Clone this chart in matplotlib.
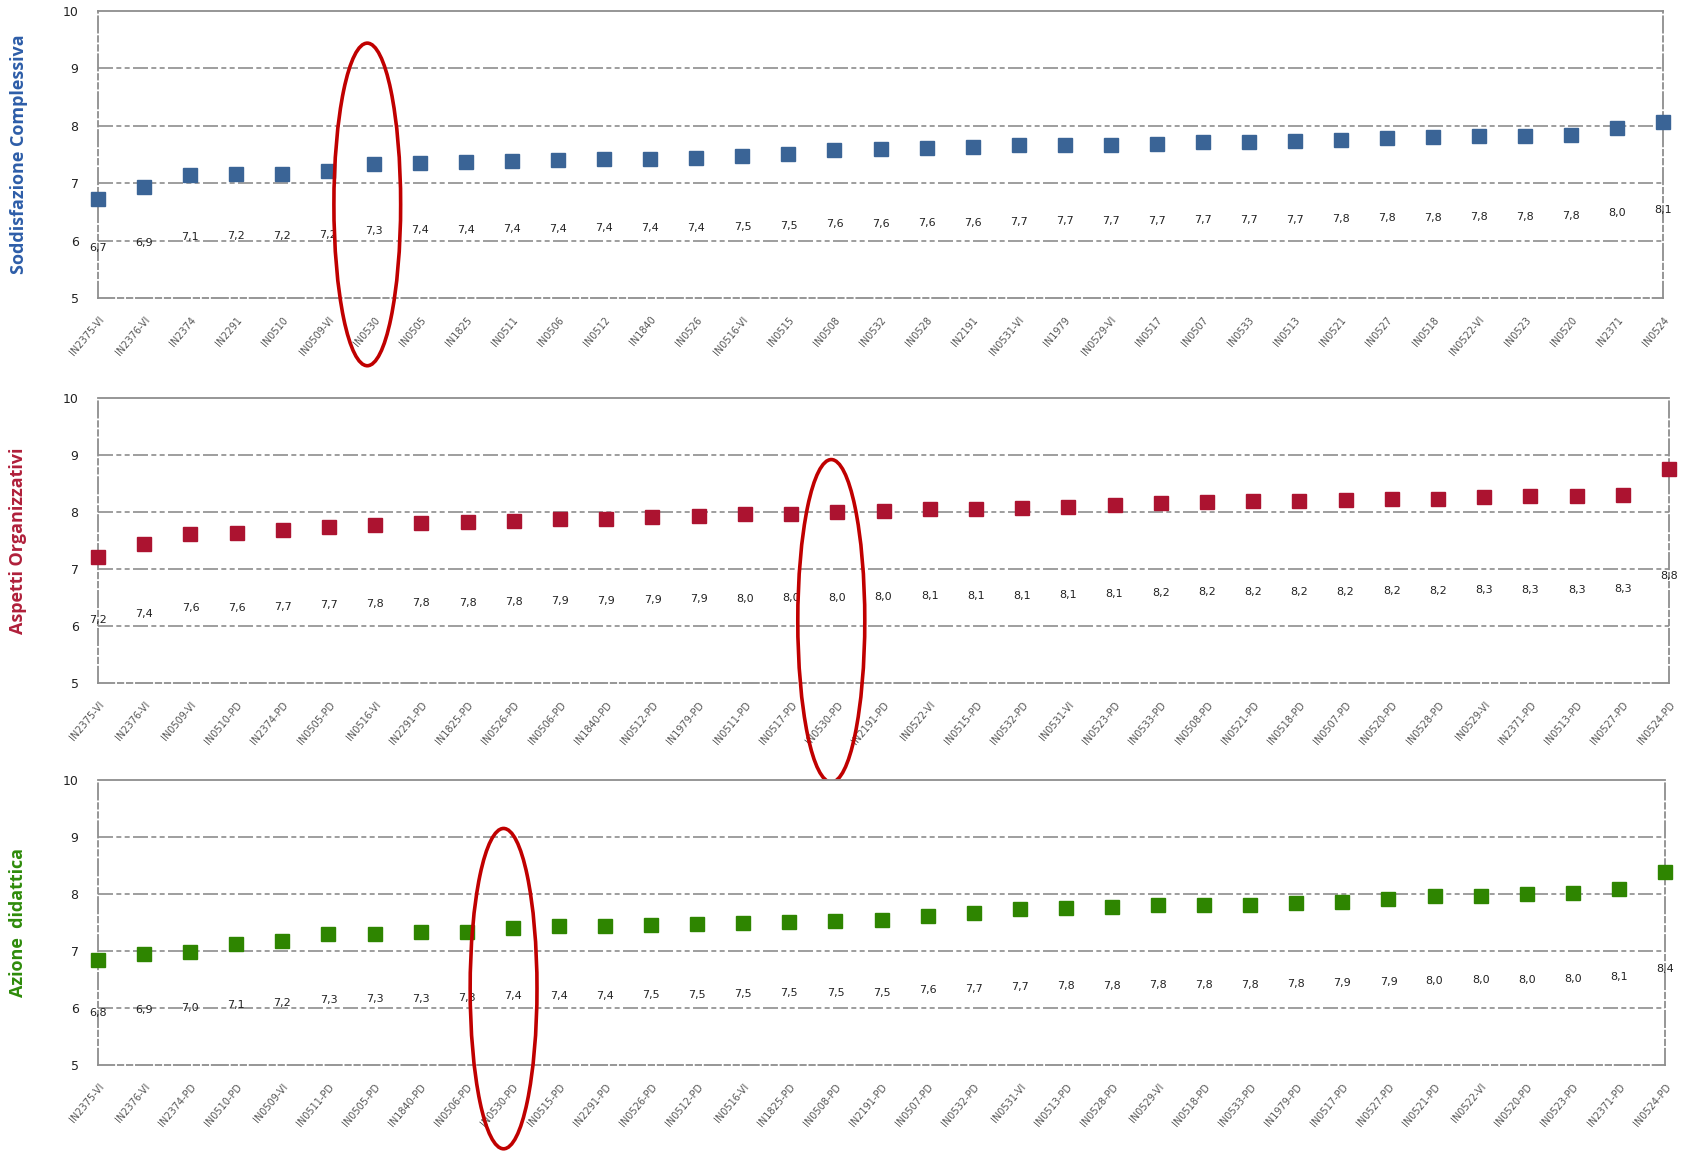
import matplotlib
matplotlib.use("Agg")
import matplotlib.pyplot as plt
from matplotlib.patches import Ellipse

# ---------------- data ----------------
labels_sodd = ["IN2375-VI", "IN2376-VI", "IN2374", "IN2291", "IN0510", "IN0509-VI", "IN0530",
               "IN0505", "IN1825", "IN0511", "IN0506", "IN0512", "IN1840", "IN0526", "IN0516-VI",
               "IN0515", "IN0508", "IN0532", "IN0528", "IN2191", "IN0531-VI", "IN1979", "IN0529-VI",
               "IN0517", "IN0507", "IN0533", "IN0513", "IN0521", "IN0527", "IN0518", "IN0522-VI",
               "IN0523", "IN0520", "IN2371", "IN0524"]
values_sodd = [6.73, 6.93, 7.14, 7.16, 7.16, 7.21, 7.33, 7.36, 7.37, 7.39, 7.41, 7.43, 7.43, 7.44,
               7.47, 7.51, 7.57, 7.59, 7.62, 7.63, 7.66, 7.67, 7.67, 7.69, 7.71, 7.72, 7.73, 7.76,
               7.79, 7.80, 7.82, 7.83, 7.84, 7.97, 8.07]

labels_org = ["IN2375-VI", "IN2376-VI", "IN0509-VI", "IN0510-PD", "IN2374-PD", "IN0505-PD",
              "IN0516-VI", "IN2291-PD", "IN1825-PD", "IN0526-PD", "IN0506-PD", "IN1840-PD",
              "IN0512-PD", "IN1979-PD", "IN0511-PD", "IN0517-PD", "IN0530-PD", "IN2191-PD",
              "IN0522-VI", "IN0515-PD", "IN0532-PD", "IN0531-VI", "IN0523-PD", "IN0533-PD",
              "IN0508-PD", "IN0521-PD", "IN0518-PD", "IN0507-PD", "IN0520-PD", "IN0528-PD",
              "IN0529-VI", "IN2371-PD", "IN0513-PD", "IN0527-PD", "IN0524-PD"]
values_org = [7.21, 7.43, 7.62, 7.63, 7.68, 7.73, 7.78, 7.81, 7.82, 7.84, 7.87, 7.88, 7.91, 7.93,
              7.96, 7.97, 8.00, 8.02, 8.06, 8.06, 8.07, 8.08, 8.12, 8.16, 8.18, 8.20, 8.20, 8.21,
              8.22, 8.23, 8.26, 8.28, 8.28, 8.30, 8.76]

labels_did = ["IN2375-VI", "IN2376-VI", "IN2374-PD", "IN0510-PD", "IN0509-VI", "IN0511-PD",
              "IN0505-PD", "IN1840-PD", "IN0506-PD", "IN0530-PD", "IN0515-PD", "IN2291-PD",
              "IN0526-PD", "IN0512-PD", "IN0516-VI", "IN1825-PD", "IN0508-PD", "IN2191-PD",
              "IN0507-PD", "IN0532-PD", "IN0531-VI", "IN0513-PD", "IN0528-PD", "IN0529-VI",
              "IN0518-PD", "IN0533-PD", "IN1979-PD", "IN0517-PD", "IN0527-PD", "IN0521-PD",
              "IN0522-VI", "IN0520-PD", "IN0523-PD", "IN2371-PD", "IN0524-PD"]
values_did = [6.84, 6.94, 6.99, 7.12, 7.18, 7.29, 7.30, 7.33, 7.34, 7.41, 7.43, 7.43, 7.46, 7.47,
              7.49, 7.51, 7.52, 7.54, 7.62, 7.67, 7.74, 7.76, 7.78, 7.80, 7.81, 7.81, 7.84, 7.86,
              7.92, 7.96, 7.97, 8.00, 8.02, 8.08, 8.38]

titles = ["Soddisfazione Complessiva", "Aspetti Organizzativi", "Azione  didattica"]
highlight = ["IN0530", "IN0530-PD", "IN0530-PD"]
y_ticks = [5, 6, 7, 8, 9, 10]

# ---------------- style ----------------
colors = ["#3A6496", "#AC1330", "#2E8500"]
title_colors = ["#2D5DA8", "#B01F3A", "#2E8B0A"]
grid_color = "#8E8E8E"
dash = (0, (9, 2, 3, 2, 3, 2))

fig = plt.figure(figsize=(16.87, 11.51), dpi=100)
W, H = 1687, 1151
boxes = [(98, 11, 1663, 298), (98, 398, 1669, 683), (98, 780, 1665, 1065)]
ell_centers = [(5.85, 6.63), (15.87, 6.09), (8.8, 6.34)]
ell_size = [(1.45, 5.62), (1.45, 5.66), (1.45, 5.62)]

datasets = [(labels_sodd, values_sodd), (labels_org, values_org), (labels_did, values_did)]

for k, ((labs, vals), box) in enumerate(zip(datasets, boxes)):
    x0, y0, x1, y1 = box
    ax = fig.add_axes([x0 / W, (H - y1) / H, (x1 - x0) / W, (y1 - y0) / H])
    xs = list(range(len(labs)))
    ax.plot(xs, vals, linestyle="none", marker="s", markersize=9.5,
            color=colors[k], markeredgecolor=colors[k], clip_on=False, zorder=3)
    for xi, v in zip(xs, vals):
        ax.text(xi, 0.5 * v + 2.5, f"{v:.1f}".replace(".", ","), ha="center", va="center",
                fontsize=8, color="#222222", zorder=4)
    ax.set_xlim(0, len(labs) - 1)
    ax.set_ylim(5, 10)
    ax.set_yticks(y_ticks)
    ax.set_yticklabels([str(t) for t in y_ticks], fontsize=9, color="#222222")
    ax.set_xticks(xs)
    ax.set_xticklabels(labs, rotation=50, ha="right", va="top", rotation_mode="anchor",
                       fontsize=7, color="#555555")
    ax.tick_params(axis="both", length=0)
    ax.tick_params(axis="x", pad=12)
    ax.tick_params(axis="y", pad=14)
    for t in y_ticks[1:-1]:
        ax.axhline(t, color=grid_color, lw=1.2, linestyle=dash, zorder=1)
    for side, sp in ax.spines.items():
        sp.set_color(grid_color)
        sp.set_linewidth(1.3)
        if side != "top":
            sp.set_linestyle(dash)
    ax.set_ylabel(titles[k], fontsize=13, fontweight="bold", color=title_colors[k],
                  family="Open Sans", labelpad=24)
    ax.yaxis.set_label_coords(-0.045, 0.5)
    # highlight ellipse
    cx, cy = ell_centers[k]
    ew, eh = ell_size[k]
    ax.add_patch(Ellipse((cx, cy), ew, eh, fill=False, edgecolor="#C00000", lw=2.6,
                         clip_on=False, zorder=5))

fig.savefig("out.png", dpi=100, facecolor="white")
